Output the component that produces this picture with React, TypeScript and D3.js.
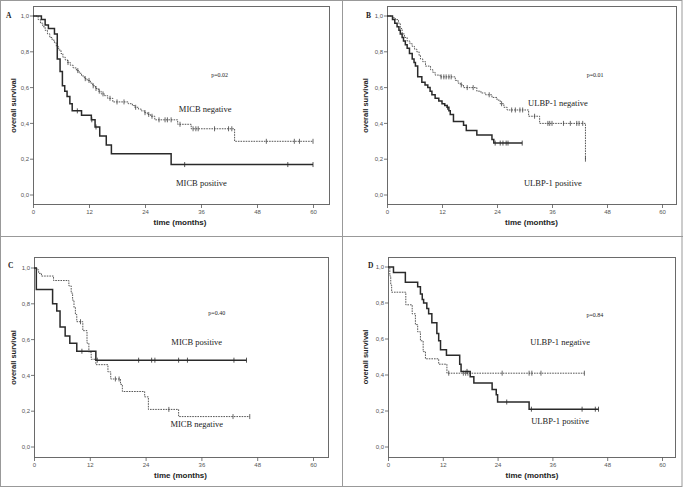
import React from "react";
import * as d3 from "d3";

// ---------- DATA ----------
const xTicks = [0, 12, 24, 36, 48, 60];
const yTicks = [0, 0.2, 0.4, 0.6, 0.8, 1.0];
const yTickLabels = ["0,0", "0,2", "0,4", "0,6", "0,8", "1,0"];

// Panel A: MICB (whole cohort)
const aPosT = [0, 1.8, 2.6, 3.3, 4.6, 5.2, 5.8, 6.3, 6.8, 7.3, 7.9, 8.4, 10.4, 12.5, 13.3, 14.3, 15.7, 16.8, 29.6];
const aPosS = [1, 0.98, 0.95, 0.93, 0.9, 0.76, 0.69, 0.61, 0.58, 0.55, 0.51, 0.47, 0.445, 0.42, 0.38, 0.33, 0.28, 0.23, 0.17];
const aPosEnd = 60;
const aPosCens = [9.5, 12.6, 13.5, 32.5, 54.6, 60];

const aNegT = [0, 1.1, 1.6, 2.1, 2.6, 3.1, 3.6, 4.1, 4.6, 5.0, 5.5, 6.0, 6.4, 6.9, 7.4, 8.0, 8.6, 9.3, 9.9, 10.4, 11.0, 11.6, 12.3, 12.8, 13.4, 14.0, 14.6, 15.3, 16.0, 17.1, 20.4, 21.3, 21.8, 22.6, 23.2, 23.9, 24.5, 25.2, 26.1, 31.0, 33.9, 43.2];
const aNegS = [1, 0.98, 0.96, 0.94, 0.92, 0.9, 0.88, 0.865, 0.85, 0.83, 0.81, 0.79, 0.77, 0.755, 0.74, 0.725, 0.71, 0.695, 0.68, 0.665, 0.65, 0.64, 0.625, 0.61, 0.595, 0.58, 0.565, 0.555, 0.54, 0.52, 0.51, 0.5, 0.49, 0.48, 0.47, 0.46, 0.45, 0.44, 0.42, 0.395, 0.37, 0.3];
const aNegEnd = 60;
const aNegCens = [7.5, 9.6, 11.2, 12.0, 12.9, 13.5, 14.2, 15.0, 16.5, 18.0, 19.5, 22.0, 24.0, 24.8, 25.5, 27.0, 28.3, 28.8, 29.6, 31.5, 34.3, 34.9, 35.4, 38.9, 41.9, 42.6, 50.0, 56.0, 57.1, 60];

// Panel B: ULBP-1 (whole cohort)
const bPosT = [0, 1.2, 1.7, 2.2, 2.6, 2.9, 3.3, 3.6, 4.0, 4.4, 4.9, 5.5, 5.9, 6.2, 6.7, 7.6, 8.3, 8.9, 9.4, 9.8, 10.5, 11.3, 12.0, 12.6, 13.1, 13.5, 13.8, 14.5, 16.7, 17.3, 19.6, 22.9, 23.3];
const bPosS = [1, 0.98, 0.96, 0.94, 0.92, 0.9, 0.88, 0.86, 0.84, 0.82, 0.79, 0.76, 0.74, 0.72, 0.66, 0.63, 0.615, 0.6, 0.58, 0.56, 0.54, 0.525, 0.51, 0.5, 0.49, 0.47, 0.45, 0.41, 0.39, 0.36, 0.335, 0.31, 0.29];
const bPosEnd = 29.5;
const bPosCens = [13.2, 23.6, 24.7, 25.3, 26.0, 26.4, 29.5];

const bNegT = [0, 1.2, 1.8, 2.5, 2.9, 3.3, 3.8, 4.4, 5.0, 5.5, 6.0, 6.5, 7.0, 7.3, 7.8, 8.4, 9.5, 10.0, 10.5, 11.6, 14.9, 15.5, 16.0, 16.7, 19.6, 20.5, 21.5, 22.9, 24.0, 24.7, 25.5, 26.2, 30.9, 33.3, 43.3];
const bNegS = [1, 0.99, 0.98, 0.96, 0.93, 0.9, 0.88, 0.86, 0.845, 0.83, 0.815, 0.8, 0.78, 0.76, 0.745, 0.72, 0.7, 0.685, 0.67, 0.66, 0.64, 0.625, 0.615, 0.6, 0.58, 0.57, 0.56, 0.545, 0.53, 0.51, 0.49, 0.475, 0.44, 0.4, 0.2];
const bNegEnd = 43.3;
const bNegCens = [11.8, 12.4, 12.9, 13.5, 14.0, 16.2, 17.5, 18.8, 22.3, 25.0, 27.2, 28.0, 29.0, 29.6, 32.2, 35.1, 35.5, 36.0, 38.5, 40.0, 41.4, 41.9, 42.7, 43.3];

// Panel C: MICB (subgroup)
const cPosT = [0, 0.5, 4.0, 4.9, 5.6, 6.7, 7.7, 9.2, 13.3];
const cPosS = [1, 0.88, 0.8, 0.76, 0.67, 0.62, 0.58, 0.535, 0.485];
const cPosEnd = 45.7;
const cPosCens = [10.3, 13.6, 22.5, 25.3, 26.0, 31.1, 33.0, 43.0, 45.7];

const cNegT = [0, 0.6, 1.0, 1.6, 4.2, 7.5, 8.0, 8.3, 8.6, 8.9, 9.2, 10.5, 11.4, 11.8, 12.3, 13.3, 15.9, 16.5, 18.6, 19.0, 23.8, 24.6, 31.1];
const cNegS = [1, 0.99, 0.97, 0.955, 0.93, 0.9, 0.86, 0.82, 0.78, 0.74, 0.7, 0.65, 0.58, 0.53, 0.49, 0.46, 0.42, 0.38, 0.35, 0.31, 0.28, 0.21, 0.17];
const cNegEnd = 46.4;
const cNegCens = [10.0, 17.5, 18.3, 29.0, 42.8, 46.4];

// Panel D: ULBP-1 (subgroup)
const dPosT = [0, 1.2, 3.8, 6.5, 7.1, 7.5, 7.8, 8.5, 8.9, 9.6, 10.7, 11.1, 11.5, 12.8, 15.7, 16.0, 18.0, 18.8, 22.8, 23.7, 24.0, 30.9];
const dPosS = [1, 0.97, 0.915, 0.89, 0.85, 0.82, 0.8, 0.77, 0.74, 0.69, 0.63, 0.59, 0.54, 0.51, 0.46, 0.42, 0.39, 0.355, 0.32, 0.29, 0.25, 0.21];
const dPosEnd = 46.1;
const dPosCens = [17.3, 26.0, 31.4, 42.5, 45.4, 46.1];

const dNegT = [0, 0.4, 0.6, 0.8, 3.9, 5.3, 6.0, 6.5, 7.1, 7.7, 8.2, 11.1, 12.9];
const dNegS = [1, 0.95, 0.9, 0.86, 0.79, 0.74, 0.68, 0.64, 0.59, 0.53, 0.49, 0.46, 0.41];
const dNegEnd = 43.0;
const dNegCens = [13.3, 16.5, 17.0, 17.5, 25.0, 30.9, 31.5, 33.5, 43.0];

// Annotation texts: [text, month, survival, kind]
const aNotes: [string, number, number, string][] = [
  ["p=0.02", 40, 0.67, "p"],
  ["MICB negative", 36.9, 0.48, "l"],
  ["MICB positive", 36.1, 0.067, "l"],
];
const bNotes: [string, number, number, string][] = [
  ["p=0.01", 45.4, 0.67, "p"],
  ["ULBP-1 negative", 37.3, 0.514, "l"],
  ["ULBP-1 positive", 36.2, 0.067, "l"],
];
const cNotes: [string, number, number, string][] = [
  ["p=0.40", 39.3, 0.75, "p"],
  ["MICB positive", 35, 0.588, "l"],
  ["MICB negative", 35, 0.128, "l"],
];
const dNotes: [string, number, number, string][] = [
  ["p=0.84", 45.3, 0.733, "p"],
  ["ULBP-1 negative", 37.7, 0.585, "l"],
  ["ULBP-1 positive", 37.7, 0.144, "l"],
];

type Curve = { t: number[]; s: number[]; end: number; cens: number[]; solid: boolean };

const panels = [
  {
    letter: "A", frame: [33, 6, 329, 204], xr: [33, 313], yr: [195, 16], letterPos: [6, 18],
    ylabX: 13, titleY: 225, notes: aNotes,
    curves: [
      { t: aNegT, s: aNegS, end: aNegEnd, cens: aNegCens, solid: false },
      { t: aPosT, s: aPosS, end: aPosEnd, cens: aPosCens, solid: true },
    ] as Curve[],
  },
  {
    letter: "B", frame: [387, 6, 676, 204], xr: [387, 662], yr: [195, 16], letterPos: [366, 18],
    ylabX: 365, titleY: 225, notes: bNotes,
    curves: [
      { t: bNegT, s: bNegS, end: bNegEnd, cens: bNegCens, solid: false },
      { t: bPosT, s: bPosS, end: bPosEnd, cens: bPosCens, solid: true },
    ] as Curve[],
  },
  {
    letter: "C", frame: [34, 257, 328, 457], xr: [34, 313], yr: [447, 268], letterPos: [8, 268],
    ylabX: 13, titleY: 478, notes: cNotes,
    curves: [
      { t: cNegT, s: cNegS, end: cNegEnd, cens: cNegCens, solid: false },
      { t: cPosT, s: cPosS, end: cPosEnd, cens: cPosCens, solid: true },
    ] as Curve[],
  },
  {
    letter: "D", frame: [388, 257, 675, 457], xr: [388, 662], yr: [447, 267], letterPos: [368, 268],
    ylabX: 365, titleY: 478, notes: dNotes,
    curves: [
      { t: dNegT, s: dNegS, end: dNegEnd, cens: dNegCens, solid: false },
      { t: dPosT, s: dPosS, end: dPosEnd, cens: dPosCens, solid: true },
    ] as Curve[],
  },
];

const sans = "'Liberation Sans', Arial, sans-serif";
const serif = "'Liberation Serif', 'Times New Roman', serif";

function survAt(c: Curve, time: number) {
  let v = c.s[0];
  for (let i = 0; i < c.t.length; i++) if (c.t[i] <= time) v = c.s[i];
  return v;
}

function Panel({ p }: { p: (typeof panels)[number] }) {
  const x = d3.scaleLinear().domain([0, 60]).range(p.xr);
  const y = d3.scaleLinear().domain([0, 1]).range(p.yr);
  const [fx0, fy0, fx1, fy1] = p.frame;
  const line = d3
    .line<[number, number]>()
    .x((d) => x(d[0]))
    .y((d) => y(d[1]))
    .curve(d3.curveStepAfter);
  return (
    <g>
      <rect x={fx0 + 0.5} y={fy0 + 0.5} width={fx1 - fx0} height={fy1 - fy0} fill="#fff" stroke="#6a6a6a" strokeWidth={1} />
      {/* y ticks */}
      {yTicks.map((v, i) => (
        <g key={"y" + i}>
          <line x1={fx0 - 3} x2={fx0 + 0.5} y1={y(v)} y2={y(v)} stroke="#555" strokeWidth={0.8} />
          <text x={fx0 - 4} y={y(v)} dy="0.35em" textAnchor="end" fontFamily={sans} fontSize={6} fill="#555">
            {yTickLabels[i]}
          </text>
        </g>
      ))}
      {/* x ticks */}
      {xTicks.map((v) => (
        <g key={"x" + v}>
          <line x1={x(v) + 0.5} x2={x(v) + 0.5} y1={fy1 + 0.5} y2={fy1 + 4} stroke="#555" strokeWidth={0.8} />
          <text x={x(v) + 0.5} y={fy1 + 10} textAnchor="middle" fontFamily={sans} fontSize={6} fill="#555">
            {v}
          </text>
        </g>
      ))}
      <text x={(p.xr[0] + p.xr[1]) / 2 + 7} y={p.titleY} textAnchor="middle" fontFamily={sans} fontWeight="bold" fontSize={8} fill="#222">
        time (months)
      </text>
      <text
        transform={`translate(${p.ylabX},${(p.yr[0] + p.yr[1]) / 2}) rotate(-90)`}
        textAnchor="middle"
        dy="0.35em"
        fontFamily={sans}
        fontWeight="bold"
        fontSize={7.5}
        fill="#222"
      >
        overall survival
      </text>
      <text x={p.letterPos[0]} y={p.letterPos[1]} fontFamily={serif} fontWeight="bold" fontSize={7.5} fill="#222">
        {p.letter}
      </text>
      {p.curves.map((c, ci) => {
        const pts: [number, number][] = c.t.map((t, i) => [t, c.s[i]] as [number, number]);
        const last = c.s[c.s.length - 1];
        if (c.end > c.t[c.t.length - 1]) pts.push([c.end, last]);
        return (
          <g key={ci}>
            <path
              d={line(pts) || ""}
              fill="none"
              stroke={c.solid ? "#2a2a2a" : "#444"}
              strokeWidth={c.solid ? 1.5 : 0.9}
              strokeDasharray={c.solid ? undefined : "1.6,1"}
            />
            {c.cens.map((ct, k) => {
              const sv = survAt(c, ct);
              return (
                <line
                  key={k}
                  x1={x(ct)}
                  x2={x(ct)}
                  y1={y(sv) - 2.5}
                  y2={y(sv) + 2.5}
                  stroke={c.solid ? "#2a2a2a" : "#444"}
                  strokeWidth={0.8}
                />
              );
            })}
          </g>
        );
      })}
      {p.notes.map(([txt, mx, sy, kind], i) => (
        <text
          key={"n" + i}
          x={x(mx)}
          y={y(sy)}
          dy="0.35em"
          textAnchor="middle"
          fontFamily={serif}
          fontSize={kind === "p" ? 6 : 8.5}
          fill="#222"
        >
          {txt}
        </text>
      ))}
    </g>
  );
}

export default function App() {
  const W = 683;
  const H = 487;
  return (
    <svg width={W} height={H} style={{ position: "absolute", left: 0, top: 0, background: "#fff" }}>
      <rect x={0} y={0} width={W} height={H} fill="#fff" />
      <rect x={0.5} y={0.5} width={W - 1.5} height={H - 1} fill="none" stroke="#999" strokeWidth={1} />
      <line x1={0} x2={W} y1={236.5} y2={236.5} stroke="#999" strokeWidth={1} />
      <line x1={342.5} x2={342.5} y1={0} y2={H} stroke="#999" strokeWidth={1} />
      {panels.map((p) => (
        <Panel key={p.letter} p={p} />
      ))}
    </svg>
  );
}
